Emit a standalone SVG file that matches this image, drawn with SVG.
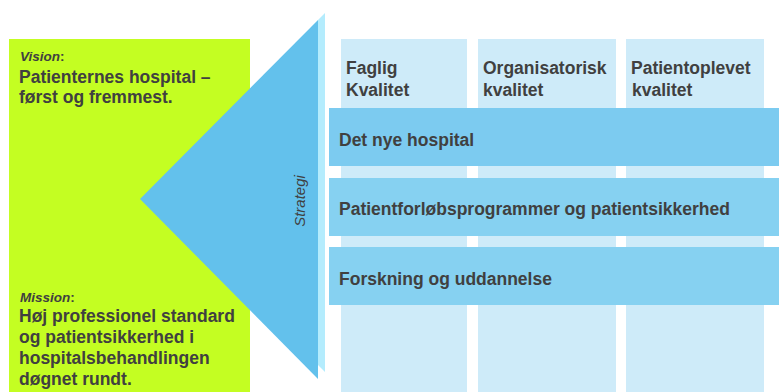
<svg xmlns="http://www.w3.org/2000/svg" width="779" height="392" viewBox="0 0 779 392">
  <style>
    text { font-family: "Liberation Sans", Arial, sans-serif; fill: #404040; font-weight: bold; }
    .big { font-size: 17.5px; }
    .lbl { font-size: 13.5px; font-style: italic; }
    .col { fill: #ceebf9; }
    .bar1 { fill: #7ccbf0; }
    .bar { fill: #86d1f1; }
    .strat { font-size: 15px; font-style: italic; font-weight: normal; }
  </style>
  <rect x="0" y="0" width="779" height="392" fill="#ffffff"/>
  <g id="panel-vision-mission">
    <rect x="9" y="39" width="241" height="353" fill="#c4fe22"/>
    <text class="lbl" x="20" y="61">Vision<tspan font-style="normal">:</tspan></text>
    <text class="big" x="19" y="83">Patienternes hospital –</text>
    <text class="big" x="19" y="103">først og fremmest.</text>
    <text class="lbl" x="20" y="302">Mission<tspan font-style="normal">:</tspan></text>
    <text class="big" x="19" y="322">Høj professionel standard</text>
    <text class="big" x="19" y="343">og patientsikkerhed i</text>
    <text class="big" x="19" y="364">hospitalsbehandlingen</text>
    <text class="big" x="19" y="385">døgnet rundt.</text>
  </g>
  <g id="strategi">
    <polygon points="318,20 325,13 325,372 318,365" fill="#b4ecfd"/>
    <polygon points="318,20 140,199 318,379" fill="#63c1ec"/>
    <text class="strat" transform="translate(305,201) rotate(-90)" text-anchor="middle">Strategi</text>
  </g>
  <g id="col-faglig">
    <rect class="col" x="341" y="39" width="126" height="353"/>
    <text class="big" x="346" y="74">Faglig</text>
    <text class="big" x="346" y="96">Kvalitet</text>
  </g>
  <g id="col-organisatorisk">
    <rect class="col" x="478" y="39" width="138" height="353"/>
    <text class="big" x="483" y="74">Organisatorisk</text>
    <text class="big" x="483" y="96">kvalitet</text>
  </g>
  <g id="col-patientoplevet">
    <rect class="col" x="626" y="39" width="138" height="353"/>
    <text class="big" x="631" y="74">Patientoplevet</text>
    <text class="big" x="632" y="96">kvalitet</text>
  </g>
  <g id="bar-det-nye-hospital">
    <rect class="bar1" x="329" y="108" width="450" height="58"/>
    <text class="big" x="339" y="146">Det nye hospital</text>
  </g>
  <g id="bar-patientforlob">
    <rect class="bar" x="329" y="178" width="450" height="58"/>
    <text class="big" x="339" y="215">Patientforløbsprogrammer og patientsikkerhed</text>
  </g>
  <g id="bar-forskning">
    <rect class="bar" x="329" y="247" width="450" height="58"/>
    <text class="big" x="339" y="285">Forskning og uddannelse</text>
  </g>
  <g id="connectors"></g>
</svg>
